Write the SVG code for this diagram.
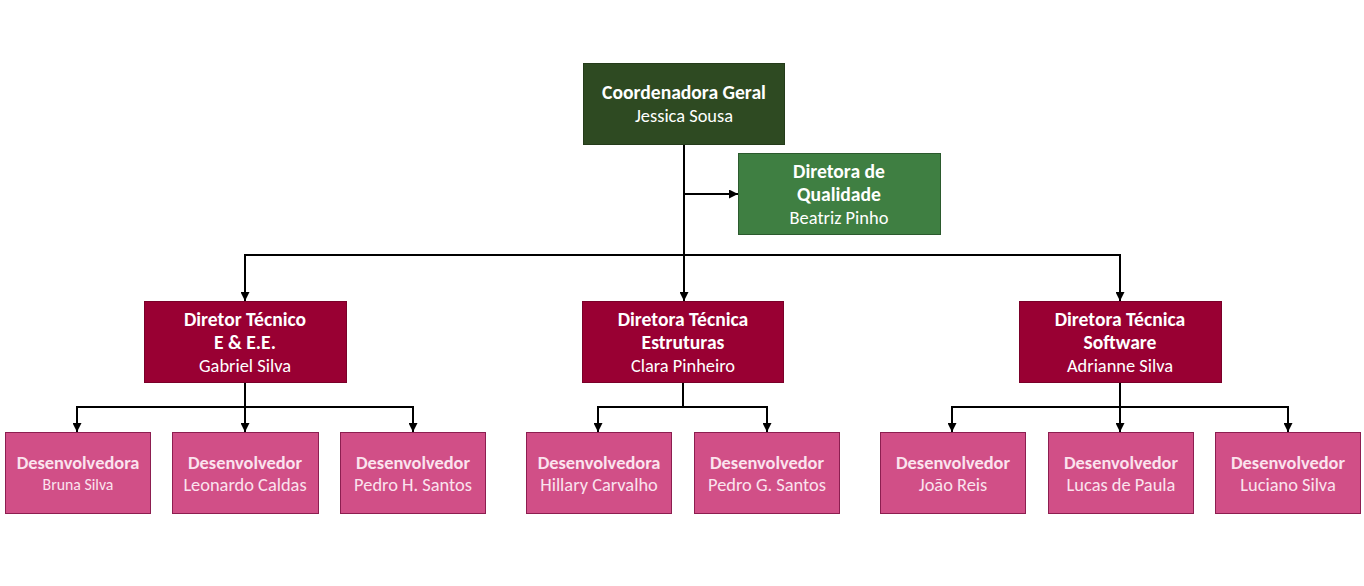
<svg xmlns="http://www.w3.org/2000/svg" width="1364" height="586" viewBox="0 0 1364 586">
<style>
text{font-family:Carlito,Lato,"Open Sans",sans-serif;text-anchor:middle}
.b{font-weight:bold}
.t{font-size:19.6px}
.s{font-size:18.4px}
.w{fill:#ffffff}
.p{fill:#fbe3ee}
.top{fill:#2E4A22;stroke:#243b1a;stroke-width:1}
.q{fill:#3F7F42;stroke:#2b5a2d;stroke-width:1}
.d{fill:#990033;stroke:#7a0029;stroke-width:1}
.l{fill:#D14F87;stroke:#8c1e50;stroke-width:1}
.c{fill:none;stroke:#000;stroke-width:2}
</style>
<defs>
<marker id="ah" viewBox="0 0 10 10" refX="10" refY="5" markerWidth="4.5" markerHeight="4.5" orient="auto" markerUnits="strokeWidth">
<path d="M0,0 L10,5 L0,10 z" fill="#000"/>
</marker>
</defs>
<rect width="1364" height="586" fill="#fff"/>
<g id="connectors">
<path class="c" d="M684,144 V301" marker-end="url(#ah)"/>
<path class="c" d="M684,194 H738" marker-end="url(#ah)"/>
<path class="c" d="M245,301 V255 H1120 V301" marker-end="url(#ah)"/>
<path class="c" d="M245,255 V301" marker-end="url(#ah)"/>
<path class="c" d="M245,382 V432" marker-end="url(#ah)"/>
<path class="c" d="M77,432 V407 H413 V432" marker-end="url(#ah)"/>
<path class="c" d="M77,407 V432" marker-end="url(#ah)"/>
<path class="c" d="M683,382 V407"/>
<path class="c" d="M598,432 V407 H767 V432" marker-end="url(#ah)"/>
<path class="c" d="M598,407 V432" marker-end="url(#ah)"/>
<path class="c" d="M1120,382 V432" marker-end="url(#ah)"/>
<path class="c" d="M952,432 V407 H1288 V432" marker-end="url(#ah)"/>
<path class="c" d="M952,407 V432" marker-end="url(#ah)"/>
</g>
<g id="coord">
<rect class="top" x="583.5" y="63.5" width="201" height="81"/>
<text class="b t w" x="684" y="99">Coordenadora Geral</text>
<text class="s w" x="684" y="122">Jessica Sousa</text>
</g>
<g id="qualidade">
<rect class="q" x="738.5" y="153.5" width="202" height="81"/>
<text class="b t w" x="839" y="178">Diretora de</text>
<text class="b t w" x="839" y="201">Qualidade</text>
<text class="s w" x="839" y="224">Beatriz Pinho</text>
</g>
<g id="dir-ee">
<rect class="d" x="144.5" y="301.5" width="202" height="81"/>
<text class="b t w" x="245" y="326">Diretor Técnico</text>
<text class="b t w" x="245" y="349">E &amp; E.E.</text>
<text class="s w" x="245" y="372">Gabriel Silva</text>
</g>
<g id="dir-est">
<rect class="d" x="582.5" y="301.5" width="201" height="81"/>
<text class="b t w" x="683" y="326">Diretora Técnica</text>
<text class="b t w" x="683" y="349">Estruturas</text>
<text class="s w" x="683" y="372">Clara Pinheiro</text>
</g>
<g id="dir-sw">
<rect class="d" x="1019.5" y="301.5" width="202" height="81"/>
<text class="b t w" x="1120" y="326">Diretora Técnica</text>
<text class="b t w" x="1120" y="349">Software</text>
<text class="s w" x="1120" y="372">Adrianne Silva</text>
</g>
<g id="dev-bruna">
<rect class="l" x="5.5" y="432.5" width="145" height="81"/>
<text class="b s p" x="78" y="469">Desenvolvedora</text>
<text class="p" style="font-size:15.8px" x="78" y="490">Bruna Silva</text>
</g>
<g id="dev-leonardo">
<rect class="l" x="172.5" y="432.5" width="146" height="81"/>
<text class="b s p" x="245" y="469">Desenvolvedor</text>
<text class="s p" x="245" y="491">Leonardo Caldas</text>
</g>
<g id="dev-pedroh">
<rect class="l" x="340.5" y="432.5" width="145" height="81"/>
<text class="b s p" x="413" y="469">Desenvolvedor</text>
<text class="s p" x="413" y="491">Pedro H. Santos</text>
</g>
<g id="dev-hillary">
<rect class="l" x="526.5" y="432.5" width="145" height="81"/>
<text class="b s p" x="599" y="469">Desenvolvedora</text>
<text class="s p" x="599" y="491">Hillary Carvalho</text>
</g>
<g id="dev-pedrog">
<rect class="l" x="694.5" y="432.5" width="145" height="81"/>
<text class="b s p" x="767" y="469">Desenvolvedor</text>
<text class="s p" x="767" y="491">Pedro G. Santos</text>
</g>
<g id="dev-joao">
<rect class="l" x="880.5" y="432.5" width="145" height="81"/>
<text class="b s p" x="953" y="469">Desenvolvedor</text>
<text class="s p" x="953" y="491">João Reis</text>
</g>
<g id="dev-lucas">
<rect class="l" x="1048.5" y="432.5" width="145" height="81"/>
<text class="b s p" x="1121" y="469">Desenvolvedor</text>
<text class="s p" x="1121" y="491">Lucas de Paula</text>
</g>
<g id="dev-luciano">
<rect class="l" x="1215.5" y="432.5" width="145" height="81"/>
<text class="b s p" x="1288" y="469">Desenvolvedor</text>
<text class="s p" x="1288" y="491">Luciano Silva</text>
</g>
</svg>
